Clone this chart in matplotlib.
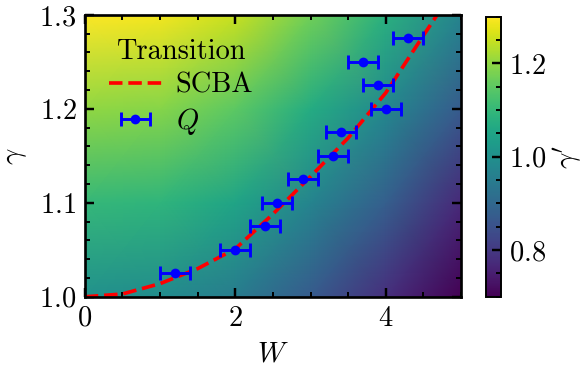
import matplotlib
matplotlib.use('Agg')
import matplotlib.pyplot as plt
from matplotlib.ticker import MultipleLocator
import numpy as np

# background field gamma'(W, gamma), values read on a coarse grid
grid_w = [0, 1, 2, 3, 4, 5]
grid_gamma = [1.0, 1.1, 1.2, 1.3]
grid_gamma_p = [
    [1.00, 0.99, 0.95, 0.87, 0.78, 0.67],
    [1.10, 1.09, 1.05, 0.97, 0.88, 0.77],
    [1.20, 1.19, 1.15, 1.07, 0.98, 0.87],
    [1.30, 1.29, 1.25, 1.17, 1.08, 0.97],
]

# SCBA transition line
scba_w = [0, 0.5, 1.0, 1.5, 2.0, 2.5, 3.0, 3.5, 4.0, 4.5, 4.7]
scba_gamma = [1.000, 1.003, 1.014, 1.030, 1.051, 1.088, 1.128, 1.169, 1.217, 1.278, 1.302]

# Q transition points
q_w = [1.2, 2.0, 2.4, 2.55, 2.9, 3.3, 3.4, 4.0, 3.9, 3.7, 4.3]
q_gamma = [1.025, 1.05, 1.075, 1.1, 1.125, 1.15, 1.175, 1.2, 1.225, 1.25, 1.275]
q_err = 0.2

plt.rcParams['font.family'] = 'serif'
plt.rcParams['font.serif'] = ['cmr10']
plt.rcParams['mathtext.fontset'] = 'cm'
plt.rcParams['axes.formatter.use_mathtext'] = True
plt.rcParams['font.size'] = 11.7

fig = plt.figure(figsize=(3.343, 2.12), dpi=175)
ax = fig.add_axes([0.145, 0.2, 0.643, 0.76])
cax = fig.add_axes([0.831, 0.2, 0.025, 0.755])

mesh = ax.pcolormesh(grid_w, grid_gamma, np.array(grid_gamma_p), shading='gouraud',
                     cmap='viridis', vmin=0.7, vmax=1.3, rasterized=True)

ax.plot(scba_w, scba_gamma, '--', color='red', lw=1.5, label='SCBA')
ax.errorbar(q_w, q_gamma, xerr=q_err, fmt='o', color='blue', ms=3, lw=1.2,
            capsize=3, capthick=1.2, label='$Q$')

ax.set_xlim(0, 5)
ax.set_ylim(1.0, 1.3)
ax.set_xlabel('$W$')
ax.set_ylabel(r'$\gamma$')
ax.xaxis.set_major_locator(MultipleLocator(2))
ax.xaxis.set_minor_locator(MultipleLocator(0.5))
ax.yaxis.set_major_locator(MultipleLocator(0.1))
ax.yaxis.set_minor_locator(MultipleLocator(0.02))
ax.tick_params(which='both', direction='in', top=True, right=True)
ax.tick_params(which='major', length=3.5, width=1.0)
ax.tick_params(which='minor', length=2, width=0.8)
for s in ax.spines.values():
    s.set_linewidth(1.1)

ax.legend(title='Transition', loc='upper left', frameon=False,
          handlelength=1.85, handletextpad=0.5, borderaxespad=0.45,
          labelspacing=0.25)

cb = fig.colorbar(mesh, cax=cax)
cb.set_label(r"$\gamma'$", labelpad=2)
cb.set_ticks([0.8, 1.0, 1.2])
cb.ax.yaxis.set_minor_locator(MultipleLocator(0.05))
cb.ax.tick_params(which='both', direction='in')
cb.ax.tick_params(which='major', length=3.5, width=1.0)
cb.ax.tick_params(which='minor', length=2, width=0.8)
cb.outline.set_linewidth(0.8)

fig.savefig('out.png', dpi=175)
